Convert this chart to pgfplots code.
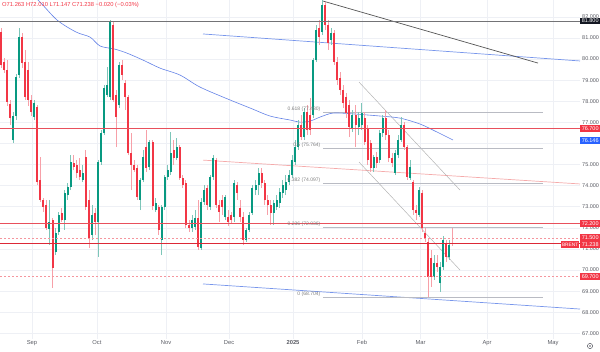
\documentclass[border=0pt]{standalone}
\usepackage{pgfplots}
\pgfplotsset{compat=1.18}
\usepackage{pgfplotstable}
\usepackage{fontspec}
\setmainfont{Liberation Sans}

\definecolor{cgreen}{RGB}{8,153,129}
\definecolor{cred}{RGB}{242,54,69}
\definecolor{wgreen}{RGB}{125,198,185}
\definecolor{wred}{RGB}{247,160,168}
\definecolor{hred}{RGB}{232,80,92}
\definecolor{dred}{RGB}{220,40,55}
\definecolor{pinkd}{RGB}{245,150,158}
\definecolor{gridc}{RGB}{238,240,245}
\definecolor{fibc}{RGB}{185,187,195}
\definecolor{chan}{RGB}{180,180,180}
\definecolor{mablue}{RGB}{100,130,230}
\definecolor{tlblue}{RGB}{120,150,235}
\definecolor{lred}{RGB}{245,170,170}
\definecolor{dgray}{RGB}{85,85,85}
\definecolor{hgray}{RGB}{115,115,118}
\definecolor{boxblue}{RGB}{41,98,255}
\definecolor{boxblack}{RGB}{19,23,34}
\definecolor{txtgray}{RGB}{90,92,100}

\pgfplotstableread{
k O H L C
4 76.16 77.49 76.02 77.30
5 77.30 79.29 77.11 79.15
6 79.24 81.47 79.10 81.04
11 77.25 78.06 77.11 77.91
16 71.95 73.32 71.18 72.27
18 70.85 71.99 70.71 71.75
19 71.80 72.75 71.66 72.61
21 72.37 73.79 71.90 73.65
22 73.55 74.12 73.32 73.93
23 73.93 75.45 73.79 75.12
27 74.27 74.98 74.17 74.60
30 71.66 73.08 71.42 72.61
32 72.27 75.21 70.62 75.12
33 75.12 76.63 74.98 76.49
34 76.49 78.77 76.40 78.63
35 78.29 79.62 78.20 78.77
36 78.20 81.85 78.06 81.75
39 77.82 79.86 77.68 79.71
46 73.32 74.36 72.84 74.27
47 74.27 75.69 74.17 75.36
49 74.88 76.16 74.74 76.07
51 72.84 73.41 72.75 73.18
53 71.42 73.08 70.71 72.99
54 72.99 74.50 72.84 74.41
55 74.41 74.98 74.27 74.74
56 74.64 76.54 74.50 75.54
58 75.31 76.26 75.21 75.83
63 71.99 72.61 71.80 72.37
64 72.04 72.84 71.90 72.46
66 71.04 73.41 70.95 73.22
67 73.22 74.03 73.08 73.79
69 72.99 74.50 72.84 74.41
70 74.41 75.45 74.27 75.31
74 72.51 73.55 72.37 73.46
77 72.51 74.27 72.27 74.12
81 71.42 71.99 71.33 71.90
82 71.90 72.75 71.80 72.61
83 72.70 74.03 72.61 73.89
84 73.79 74.27 73.55 74.03
85 74.03 74.83 73.55 74.60
90 72.70 73.32 72.13 73.18
91 72.99 73.55 72.84 73.32
92 73.18 73.89 72.94 73.70
93 73.65 74.27 73.41 74.03
94 73.79 74.50 73.55 74.17
95 74.17 74.74 74.03 74.50
96 74.50 75.45 74.36 75.21
97 75.12 76.16 74.98 75.83
98 75.83 77.11 75.69 76.87
100 76.30 77.68 76.16 77.49
103 77.35 80.05 77.20 79.95
104 79.95 81.61 79.86 81.37
106 81.28 82.82 81.14 82.56
109 80.90 81.47 80.66 81.23
116 76.73 77.58 76.54 77.35
118 76.78 77.49 76.40 77.20
119 76.87 77.91 76.63 77.44
123 74.83 75.45 74.64 75.36
125 75.21 76.63 75.07 76.49
126 76.49 77.35 76.30 77.20
130 74.60 75.69 74.50 75.54
131 75.45 76.40 75.31 76.16
132 76.16 77.25 76.07 76.87
135 74.36 75.21 74.27 74.88
138 72.61 73.93 72.51 73.79
143 69.67 70.71 69.53 70.33
145 69.38 70.38 68.96 70.14
146 70.14 71.61 70.00 71.42
148 70.62 71.42 70.47 71.18
}\up

\pgfplotstableread{
k O H L C
0 81.28 81.47 79.57 79.71
1 79.86 80.05 79.34 79.48
2 79.48 79.95 77.77 77.96
3 77.87 78.06 76.87 77.20
7 81.04 81.23 79.57 79.81
8 79.86 80.43 78.06 78.20
9 79.48 79.86 77.77 78.06
10 78.06 78.29 77.30 77.49
12 77.73 77.82 74.03 74.17
13 74.27 75.36 73.22 73.32
14 73.32 73.41 72.75 72.99
15 73.08 73.32 71.90 71.99
17 72.37 72.46 69.15 70.10
20 72.70 72.94 72.27 72.37
24 75.07 75.45 74.74 74.88
25 74.98 75.21 74.36 74.60
26 74.74 75.31 74.27 74.41
28 75.36 75.69 72.84 72.99
29 73.32 73.79 71.04 71.52
31 72.70 72.94 71.66 72.27
37 81.61 81.80 77.96 78.06
38 78.29 78.53 75.83 77.25
40 79.71 79.95 79.00 79.24
41 78.86 79.00 77.58 78.20
42 78.20 78.29 75.45 75.54
43 75.54 76.49 73.79 74.98
44 74.98 75.21 74.64 74.74
45 74.83 74.98 73.32 73.46
48 75.83 76.63 74.64 74.83
50 76.07 76.16 72.84 73.03
52 72.99 73.08 71.66 71.90
57 75.69 76.16 74.98 75.31
59 75.83 75.92 74.27 74.36
60 74.36 74.50 73.89 74.03
61 74.12 74.27 71.99 72.13
62 72.13 72.37 71.80 71.99
65 72.46 73.32 70.95 71.09
68 73.89 74.03 72.84 73.08
71 75.21 75.31 72.94 73.08
72 73.08 73.32 72.27 72.75
73 73.32 73.55 72.61 72.99
75 72.51 72.84 72.09 72.27
76 72.61 72.75 72.18 72.37
78 74.03 74.17 73.32 73.65
79 72.94 73.32 72.27 72.51
80 72.51 72.75 71.18 71.42
86 74.60 74.83 73.89 74.12
87 74.12 74.27 73.08 73.32
88 73.32 73.55 72.61 73.08
89 73.08 73.32 72.13 72.70
99 76.87 77.35 76.16 76.30
101 77.49 77.82 76.40 76.63
102 77.35 78.15 76.40 76.63
105 81.47 81.85 80.66 81.04
107 82.56 82.70 81.37 81.61
108 81.61 81.85 80.43 80.76
110 81.23 81.37 79.71 79.86
111 79.86 80.10 78.77 79.00
112 79.10 79.38 78.29 78.53
113 78.53 78.77 77.68 77.91
114 78.20 78.39 77.20 77.44
115 77.82 78.06 76.30 76.78
117 77.35 77.82 75.83 76.87
120 77.20 77.49 75.92 76.07
121 76.73 76.87 74.98 75.21
122 76.02 76.16 74.64 74.83
124 75.36 75.59 74.83 75.07
127 77.20 77.58 76.16 76.40
128 76.40 76.63 75.12 75.31
129 75.31 75.54 74.88 75.07
133 76.87 77.01 75.69 75.83
134 75.83 75.92 74.27 74.41
136 74.17 74.27 72.61 72.84
137 72.84 73.08 72.37 72.70
139 73.65 73.79 71.80 71.99
140 71.75 71.99 71.33 71.52
141 71.33 71.52 68.70 69.67
142 70.57 70.95 69.19 69.67
144 70.33 70.71 69.90 70.14
147 71.28 71.42 70.38 70.62
149 71.263 72.010 71.147 71.238
}\down

\begin{document}
\begin{tikzpicture}
\useasboundingbox (0,0) rectangle (600pt,351pt);
\begin{axis}[
  at={(0pt,12pt)}, anchor=south west,
  scale only axis, width=580pt, height=339pt,
  xmin=-0.33, xmax=191.09, ymin=66.73, ymax=82.80,
  clip mode=individual,
  axis line style={draw=none},
  major tick length=0pt,
  xtick={10.23,31.68,54.46,75.25,96.37,119.14,138.5,160.4,182.2},
  xticklabels={Sep,Oct,Nov,Dec,\textbf{2025},Feb,Mar,Apr,May},
  xticklabel style={font=\fontsize{5.8}{6}\selectfont, text=txtgray, inner sep=1.5pt},
  ytick={67,68,69,70,71,72,73,74,75,77,78,79,80,81,82},
  extra y ticks={76}, extra y tick labels={},
  yticklabel pos=right,
  yticklabel style={font=\fontsize{5.5}{6}\selectfont, text=txtgray, inner sep=2pt,
    /pgf/number format/fixed, /pgf/number format/fixed zerofill, /pgf/number format/precision=3},
  /pgf/number format/assume math mode=true,
  grid=major, major grid style={draw=gridc, line width=0.6pt},
  extra tick style={grid=major, major grid style={draw=gridc, line width=0.6pt}},
]
% trend lines
\addplot[forget plot, tlblue, line width=0.7pt] coordinates {(66.67,81.19) (191.09,79.91)};
\addplot[forget plot, tlblue, line width=0.7pt] coordinates {(66.67,69.34) (191.09,68.15)};
\addplot[forget plot, lred, line width=0.7pt] coordinates {(66.67,75.21) (191.09,74.08)};
\addplot[forget plot, dgray, line width=0.7pt] coordinates {(106.27,82.75) (177.23,79.81)};
\addplot[forget plot, chan, line width=0.5pt] coordinates {(118.15,78.91) (151.49,73.79)};
\addplot[forget plot, chan, line width=0.5pt] coordinates {(118.15,75.12) (151.49,70.00)};
% fib levels
\addplot[forget plot, fibc, line width=1pt] coordinates {(106.27,77.480) (178.88,77.480)};
\addplot[forget plot, fibc, line width=1pt] coordinates {(106.27,75.764) (178.88,75.764)};
\addplot[forget plot, fibc, line width=1pt] coordinates {(106.27,74.097) (178.88,74.097)};
\addplot[forget plot, fibc, line width=1pt] coordinates {(106.27,72.036) (178.88,72.036)};
\addplot[forget plot, fibc, line width=1pt] coordinates {(106.27,68.704) (178.88,68.704)};
% moving average
\addplot[forget plot, mablue, line width=0.6pt, smooth] coordinates {
(9.6,82.94) (12.2,82.80) (18.5,81.85) (24.8,81.28) (29.4,81.04) (32.7,80.62) (37.6,80.47)
(41.6,80.28) (46.9,79.95) (52.5,79.57) (59.1,79.24) (65.7,78.67) (75.6,78.06) (82.2,77.68)
(88.8,77.30) (95.4,77.11) (98.7,77.01) (102.0,77.06) (105.3,77.25) (109.6,77.44) (116.2,77.40)
(125.1,77.30) (131.7,77.20) (138.3,76.92) (143.2,76.59) (149.2,76.16)};
% wicks
\addplot[forget plot, draw=none, mark=none, error bars/.cd, y dir=plus, y explicit, error mark=none,
  error bar style={draw=wgreen, line width=0.7pt}]
  table[x=k, y=L, y error plus expr=\thisrow{H}-\thisrow{L}] {\up};
\addplot[forget plot, draw=none, mark=none, error bars/.cd, y dir=plus, y explicit, error mark=none,
  error bar style={draw=wred, line width=0.7pt}]
  table[x=k, y=L, y error plus expr=\thisrow{H}-\thisrow{L}] {\down};
% bodies
\addplot[forget plot, draw=none, mark=none, error bars/.cd, y dir=plus, y explicit, error mark=none,
  error bar style={draw=cgreen, line width=2pt}]
  table[x=k, y=O, y error plus expr=\thisrow{C}-\thisrow{O}] {\up};
\addplot[forget plot, draw=none, mark=none, error bars/.cd, y dir=plus, y explicit, error mark=none,
  error bar style={draw=cred, line width=2pt}]
  table[x=k, y=C, y error plus expr=\thisrow{O}-\thisrow{C}] {\down};
% horizontal levels
\addplot[forget plot, hgray, line width=1pt] coordinates {(-0.33,81.8) (191.09,81.8)};
\addplot[forget plot, hred, line width=1.3pt] coordinates {(-0.33,76.7) (191.09,76.7)};
\addplot[forget plot, hred, line width=1.3pt] coordinates {(-0.33,72.2) (191.09,72.2)};
\addplot[forget plot, dred, line width=1.1pt] coordinates {(-0.33,71.238) (191.09,71.238)};
\addplot[forget plot, pinkd, line width=0.8pt, dash pattern=on 2pt off 2pt] coordinates {(-0.33,71.5) (191.09,71.5)};
\addplot[forget plot, pinkd, line width=0.8pt, dash pattern=on 2pt off 2pt] coordinates {(-0.33,69.7) (191.09,69.7)};
% fib labels
\begin{scope}[every node/.style={font=\fontsize{5}{5}\selectfont, text=gray, anchor=south east, inner sep=0.5pt}]
\node at (axis cs:105.6,77.480) {0.618 (77.480)};
\node at (axis cs:105.6,75.764) {0.5 (75.764)};
\node at (axis cs:105.6,74.097) {0.382 (74.097)};
\node at (axis cs:105.6,72.036) {0.236 (72.036)};
\node at (axis cs:105.6,68.704) {0 (68.704)};
\end{scope}
% price boxes
\begin{scope}[every node/.style={font=\fontsize{5.5}{5.5}\selectfont, text=white, anchor=west, inner xsep=1pt, inner ysep=0pt, minimum height=6.6pt, minimum width=20pt}]
\node[fill=boxblack] at (axis cs:191.09,81.8) {81.800};
\node[fill=cred] at (axis cs:191.09,76.7) {76.700};
\node[fill=boxblue] at (axis cs:191.09,76.146) {76.146};
\node[fill=cred] at (axis cs:191.09,72.2) {72.200};
\node[fill=cred, yshift=0.8pt] at (axis cs:191.09,71.5) {71.500};
\node[fill=cred, yshift=-0.6pt] at (axis cs:191.09,71.238) {71.238};
\node[fill=cred] at (axis cs:191.09,69.7) {69.700};
\node[fill=cred, anchor=east, minimum width=15pt, font=\fontsize{4.8}{5}\selectfont, yshift=-0.6pt, xshift=-0.5pt] at (axis cs:191.09,71.238) {BRENT};
\end{scope}
\node[anchor=north west, inner sep=0pt, xshift=2pt, yshift=-2pt, text=cred, font=\fontsize{5.8}{6.2}\selectfont] at (rel axis cs:0,1) {O71.263 H72.010 L71.147 C71.238 −0.020 (−0.03\%)};
\end{axis}
\draw[txtgray, line width=0.5pt] (590pt,5pt) circle (2.6pt);
\fill[txtgray] (590pt,5pt) circle (0.8pt);
\end{tikzpicture}
\end{document}
